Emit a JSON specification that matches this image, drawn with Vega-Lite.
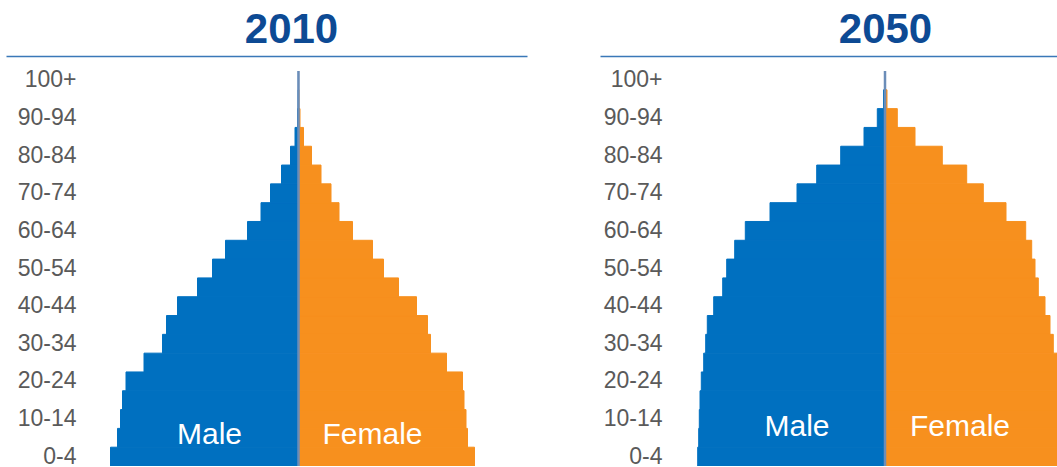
{
  "$schema": "https://vega.github.io/schema/vega-lite/v6.json",
  "background": "white",
  "padding": {"left": 6, "top": 9, "right": 0, "bottom": 0},
  "spacing": 73,
  "config": {
    "view": {"stroke": null},
    "font": "Liberation Sans",
    "title": {"font": "Liberation Sans", "fontSize": 42, "fontWeight": "bold", "color": "#0d4a94", "anchor": "middle", "offset": 4, "baseline": "alphabetic"}
  },
  "datasets": {
    "y2010": [
      {"age": "0-4", "sex": "Male", "value": -18.8}, {"age": "0-4", "sex": "Female", "value": 17.6},
      {"age": "5-9", "sex": "Male", "value": -18.1}, {"age": "5-9", "sex": "Female", "value": 16.9},
      {"age": "10-14", "sex": "Male", "value": -17.8}, {"age": "10-14", "sex": "Female", "value": 16.75},
      {"age": "15-19", "sex": "Male", "value": -17.6}, {"age": "15-19", "sex": "Female", "value": 16.55},
      {"age": "20-24", "sex": "Male", "value": -17.25}, {"age": "20-24", "sex": "Female", "value": 16.4},
      {"age": "25-29", "sex": "Male", "value": -15.45}, {"age": "25-29", "sex": "Female", "value": 14.8},
      {"age": "30-34", "sex": "Male", "value": -13.6}, {"age": "30-34", "sex": "Female", "value": 13.2},
      {"age": "35-39", "sex": "Male", "value": -13.2}, {"age": "35-39", "sex": "Female", "value": 12.9},
      {"age": "40-44", "sex": "Male", "value": -12.1}, {"age": "40-44", "sex": "Female", "value": 11.8},
      {"age": "45-49", "sex": "Male", "value": -10.1}, {"age": "45-49", "sex": "Female", "value": 10.0},
      {"age": "50-54", "sex": "Male", "value": -8.6}, {"age": "50-54", "sex": "Female", "value": 8.5},
      {"age": "55-59", "sex": "Male", "value": -7.3}, {"age": "55-59", "sex": "Female", "value": 7.4},
      {"age": "60-64", "sex": "Male", "value": -5.1}, {"age": "60-64", "sex": "Female", "value": 5.4},
      {"age": "65-69", "sex": "Male", "value": -3.75}, {"age": "65-69", "sex": "Female", "value": 4.05},
      {"age": "70-74", "sex": "Male", "value": -2.8}, {"age": "70-74", "sex": "Female", "value": 3.25},
      {"age": "75-79", "sex": "Male", "value": -1.7}, {"age": "75-79", "sex": "Female", "value": 2.25},
      {"age": "80-84", "sex": "Male", "value": -0.8}, {"age": "80-84", "sex": "Female", "value": 1.3},
      {"age": "85-89", "sex": "Male", "value": -0.35}, {"age": "85-89", "sex": "Female", "value": 0.5},
      {"age": "90-94", "sex": "Male", "value": -0.1}, {"age": "90-94", "sex": "Female", "value": 0.15},
      {"age": "95-99", "sex": "Male", "value": -0.05}, {"age": "95-99", "sex": "Female", "value": 0.05},
      {"age": "100+", "sex": "Male", "value": -0.02}, {"age": "100+", "sex": "Female", "value": 0.01}
    ],
    "y2050": [
      {"age": "0-4", "sex": "Male", "value": -18.73}, {"age": "0-4", "sex": "Female", "value": 17.8},
      {"age": "5-9", "sex": "Male", "value": -18.63}, {"age": "5-9", "sex": "Female", "value": 17.7},
      {"age": "10-14", "sex": "Male", "value": -18.57}, {"age": "10-14", "sex": "Female", "value": 17.6},
      {"age": "15-19", "sex": "Male", "value": -18.5}, {"age": "15-19", "sex": "Female", "value": 17.5},
      {"age": "20-24", "sex": "Male", "value": -18.37}, {"age": "20-24", "sex": "Female", "value": 17.4},
      {"age": "25-29", "sex": "Male", "value": -18.13}, {"age": "25-29", "sex": "Female", "value": 17.2},
      {"age": "30-34", "sex": "Male", "value": -17.93}, {"age": "30-34", "sex": "Female", "value": 16.83},
      {"age": "35-39", "sex": "Male", "value": -17.77}, {"age": "35-39", "sex": "Female", "value": 16.5},
      {"age": "40-44", "sex": "Male", "value": -17.13}, {"age": "40-44", "sex": "Female", "value": 16.0},
      {"age": "45-49", "sex": "Male", "value": -16.23}, {"age": "45-49", "sex": "Female", "value": 15.33},
      {"age": "50-54", "sex": "Male", "value": -15.83}, {"age": "50-54", "sex": "Female", "value": 15.0},
      {"age": "55-59", "sex": "Male", "value": -15.03}, {"age": "55-59", "sex": "Female", "value": 14.67},
      {"age": "60-64", "sex": "Male", "value": -13.97}, {"age": "60-64", "sex": "Female", "value": 14.07},
      {"age": "65-69", "sex": "Male", "value": -11.5}, {"age": "65-69", "sex": "Female", "value": 12.1},
      {"age": "70-74", "sex": "Male", "value": -8.8}, {"age": "70-74", "sex": "Female", "value": 9.83},
      {"age": "75-79", "sex": "Male", "value": -6.83}, {"age": "75-79", "sex": "Female", "value": 8.17},
      {"age": "80-84", "sex": "Male", "value": -4.43}, {"age": "80-84", "sex": "Female", "value": 5.73},
      {"age": "85-89", "sex": "Male", "value": -2.1}, {"age": "85-89", "sex": "Female", "value": 3.0},
      {"age": "90-94", "sex": "Male", "value": -0.77}, {"age": "90-94", "sex": "Female", "value": 1.23},
      {"age": "95-99", "sex": "Male", "value": -0.15}, {"age": "95-99", "sex": "Female", "value": 0.2},
      {"age": "100+", "sex": "Male", "value": -0.05}, {"age": "100+", "sex": "Female", "value": 0.05}
    ],
    "one": [{}]
  },
  "hconcat": [
    {
      "width": 521,
      "height": 395,
      "title": {"text": "2010", "dx": 25},
      "layer": [
        {
          "data": {"name": "y2010"},
          "mark": {"type": "bar", "clip": true, "strokeWidth": 1},
          "encoding": {
            "y": {"field": "age", "type": "nominal",
              "scale": {"domain": ["100+","95-99","90-94","85-89","80-84","75-79","70-74","65-69","60-64","55-59","50-54","45-49","40-44","35-39","30-34","25-29","20-24","15-19","10-14","5-9","0-4"], "paddingInner": 0, "paddingOuter": 0},
              "axis": {"title": null, "values": ["100+","90-94","80-84","70-74","60-64","50-54","40-44","30-34","20-24","10-14","0-4"], "domain": false, "ticks": false, "tickSize": 0, "grid": false, "labelPadding": 0, "offset": -70, "labelFont": "Liberation Sans", "labelFontSize": 23, "labelColor": "#5a5a5a"}},
            "x": {"field": "value", "type": "quantitative",
              "scale": {"domain": [-29.25, 22.85], "nice": false, "zero": false},
              "axis": {"orient": "top", "title": null, "labels": false, "ticks": false, "grid": false, "domain": true, "domainColor": "#3a78b8", "domainWidth": 1.5, "offset": 15}},
            "color": {"field": "sex", "type": "nominal", "scale": {"domain": ["Male", "Female"], "range": ["#0070c0", "#f7901e"]}, "legend": null},
            "stroke": {"field": "sex", "type": "nominal", "scale": {"domain": ["Male", "Female"], "range": ["#0070c0", "#f7901e"]}, "legend": null}
          }
        },
        {
          "data": {"name": "one"},
          "mark": {"type": "rule", "color": "#6b8db8", "strokeWidth": 2.5},
          "encoding": {"x": {"datum": 0}}
        },
        {
          "data": {"name": "one"},
          "mark": {"type": "text", "fill": "white", "fontSize": 30, "font": "Liberation Sans", "align": "center", "baseline": "alphabetic", "dy": 6},
          "encoding": {"x": {"datum": -8.9}, "y": {"datum": "5-9"}, "text": {"value": "Male"}}
        },
        {
          "data": {"name": "one"},
          "mark": {"type": "text", "fill": "white", "fontSize": 30, "font": "Liberation Sans", "align": "center", "baseline": "alphabetic", "dy": 6},
          "encoding": {"x": {"datum": 7.4}, "y": {"datum": "5-9"}, "text": {"value": "Female"}}
        }
      ]
    },
    {
      "width": 457,
      "height": 395,
      "title": {"text": "2050", "dx": 57},
      "layer": [
        {
          "data": {"name": "y2050"},
          "mark": {"type": "bar", "clip": true, "strokeWidth": 1},
          "encoding": {
            "y": {"field": "age", "type": "nominal",
              "scale": {"domain": ["100+","95-99","90-94","85-89","80-84","75-79","70-74","65-69","60-64","55-59","50-54","45-49","40-44","35-39","30-34","25-29","20-24","15-19","10-14","5-9","0-4"], "paddingInner": 0, "paddingOuter": 0},
              "axis": {"title": null, "values": ["100+","90-94","80-84","70-74","60-64","50-54","40-44","30-34","20-24","10-14","0-4"], "domain": false, "ticks": false, "tickSize": 0, "grid": false, "labelPadding": 0, "offset": -62, "labelFont": "Liberation Sans", "labelFontSize": 23, "labelColor": "#5a5a5a"}},
            "x": {"field": "value", "type": "quantitative",
              "scale": {"domain": [-28.5, 17.2], "nice": false, "zero": false},
              "axis": {"orient": "top", "title": null, "labels": false, "ticks": false, "grid": false, "domain": true, "domainColor": "#3a78b8", "domainWidth": 1.5, "offset": 15}},
            "color": {"field": "sex", "type": "nominal", "scale": {"domain": ["Male", "Female"], "range": ["#0070c0", "#f7901e"]}, "legend": null},
            "stroke": {"field": "sex", "type": "nominal", "scale": {"domain": ["Male", "Female"], "range": ["#0070c0", "#f7901e"]}, "legend": null}
          }
        },
        {
          "data": {"name": "one"},
          "mark": {"type": "rule", "color": "#6b8db8", "strokeWidth": 2.5},
          "encoding": {"x": {"datum": 0}}
        },
        {
          "data": {"name": "one"},
          "mark": {"type": "text", "fill": "white", "fontSize": 30, "font": "Liberation Sans", "align": "center", "baseline": "alphabetic", "dy": -2},
          "encoding": {"x": {"datum": -8.8}, "y": {"datum": "5-9"}, "text": {"value": "Male"}}
        },
        {
          "data": {"name": "one"},
          "mark": {"type": "text", "fill": "white", "fontSize": 30, "font": "Liberation Sans", "align": "center", "baseline": "alphabetic", "dy": -2},
          "encoding": {"x": {"datum": 7.5}, "y": {"datum": "5-9"}, "text": {"value": "Female"}}
        }
      ]
    }
  ],
  "resolve": {"scale": {"x": "independent", "y": "independent", "color": "shared", "stroke": "shared"}}
}
